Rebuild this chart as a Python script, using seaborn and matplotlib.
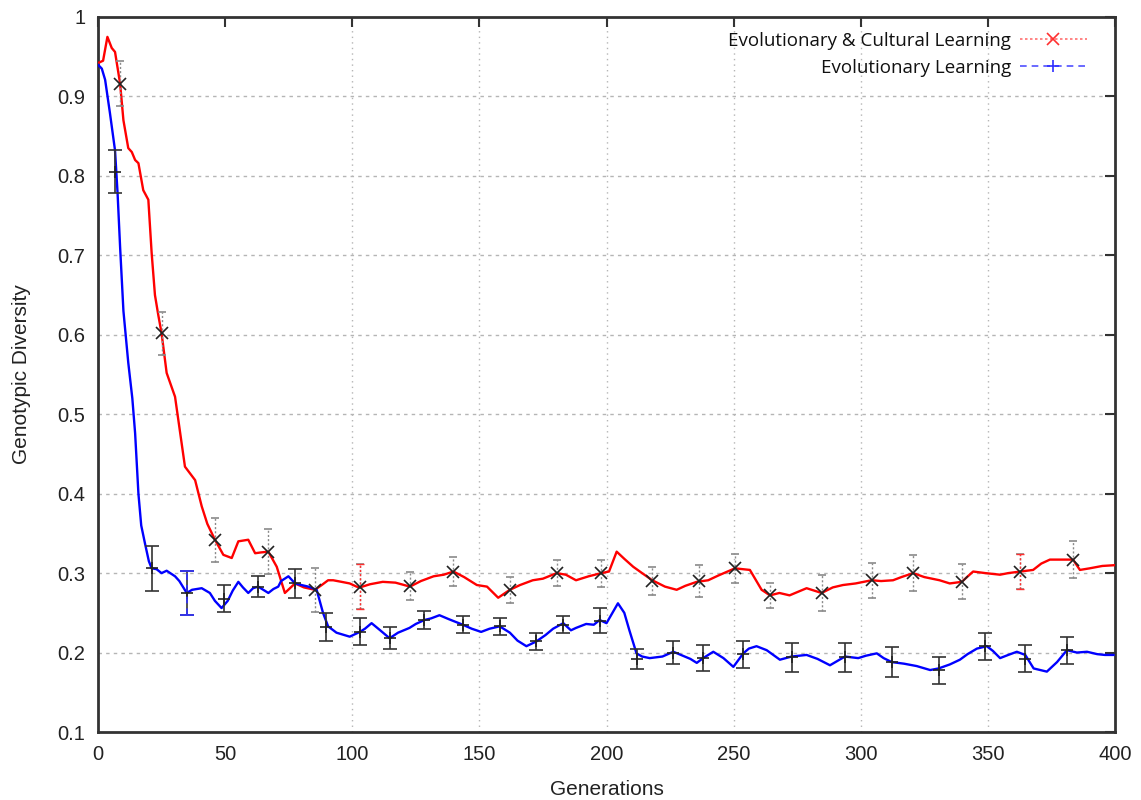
import numpy as np
import pandas as pd
import matplotlib
matplotlib.use("Agg")
import matplotlib.pyplot as plt
import seaborn as sns
from matplotlib.lines import Line2D

# ---------------- data ----------------
series_names = ["Evolutionary & Cultural Learning", "Evolutionary Learning"]

ec_gen = [0, 2, 3.7, 5.4, 6.7, 8.7, 10, 11.9, 13.3, 14.6, 15.9, 17.8, 19.8, 21.1, 22.4, 23.7,
          25, 27, 30.3, 34.2, 38.2, 40.8, 43, 46, 49.3, 52.6, 55.2, 59.1, 61.8, 64, 67, 70.3,
          73.5, 77.5, 81, 85.3, 88, 90.5, 92.5, 95.8, 99, 101.7, 103, 107, 112, 117, 122.7,
          127, 132, 136, 139.8, 144, 149, 153, 157.4, 162, 166, 171, 175, 180.4, 184, 188,
          193, 198, 201, 204, 207, 210.5, 214, 218, 223, 227.6, 231, 235.5, 240, 244, 250.5,
          256.4, 261, 264.3, 268, 272, 278.7, 284.6, 289, 293, 298, 304.3, 308, 312.7, 316,
          320.6, 325, 331, 335, 339.7, 344.2, 349, 354.8, 358, 362.8, 367.8, 371, 374.4, 379,
          383.5, 386.2, 390, 395, 400]
ec_val = [0.942, 0.945, 0.975, 0.961, 0.956, 0.916, 0.870, 0.835, 0.830, 0.820, 0.816, 0.782,
          0.770, 0.703, 0.650, 0.625, 0.602, 0.552, 0.522, 0.434, 0.417, 0.384, 0.362, 0.342,
          0.323, 0.319, 0.340, 0.342, 0.325, 0.326, 0.327, 0.308, 0.275, 0.287, 0.282, 0.279,
          0.285, 0.291, 0.291, 0.289, 0.287, 0.283, 0.282, 0.286, 0.289, 0.288, 0.283, 0.290,
          0.296, 0.298, 0.302, 0.295, 0.285, 0.283, 0.269, 0.279, 0.285, 0.291, 0.293, 0.300,
          0.298, 0.291, 0.296, 0.300, 0.302, 0.327, 0.318, 0.308, 0.300, 0.291, 0.283, 0.279,
          0.284, 0.289, 0.291, 0.297, 0.306, 0.304, 0.279, 0.272, 0.275, 0.272, 0.281, 0.275,
          0.282, 0.285, 0.287, 0.291, 0.290, 0.291, 0.295, 0.300, 0.295, 0.291, 0.287, 0.289,
          0.302, 0.300, 0.298, 0.300, 0.302, 0.304, 0.312, 0.317, 0.317, 0.317, 0.304, 0.306,
          0.309, 0.310]

ev_gen = [0, 1.5, 2.8, 4.7, 6.7, 7.3, 7.7, 8.7, 10, 11.9, 13.5, 14.6, 15.9, 17, 18.5, 20, 21.1,
          23, 25, 27, 30.3, 32, 34.9, 37, 40.8, 44, 46, 48.6, 51, 53, 55.2, 57, 59.1, 61, 63,
          65, 67, 69, 70.9, 72, 74.9, 77.5, 80, 82.7, 86, 88.5, 90.5, 93.8, 99, 103, 105,
          107.6, 111, 114.7, 118, 122.5, 125, 128.4, 131, 134.3, 138, 143.5, 147, 150.7, 154,
          158, 162, 165, 168.5, 172.4, 176, 179, 183, 186, 188, 192, 195, 197.3, 200, 202,
          204.5, 207, 209, 211.8, 214, 217, 222, 226.3, 230, 233, 235.5, 238, 242, 246, 249.9,
          253.8, 256, 259, 263, 268.2, 272.8, 278.7, 283, 287.9, 293.8, 299, 302, 306.3, 309,
          312.2, 317, 322, 327.3, 330.6, 335, 339, 342, 345.7, 349.6, 352, 354.8, 358, 361.4,
          364.7, 368, 373.2, 377.2, 381.1, 385, 389, 393, 396, 399.5]
ev_val = [0.940, 0.935, 0.921, 0.879, 0.832, 0.800, 0.778, 0.710, 0.630, 0.565, 0.520, 0.476,
          0.400, 0.360, 0.337, 0.315, 0.306, 0.305, 0.300, 0.303, 0.296, 0.290, 0.275, 0.279,
          0.281, 0.275, 0.265, 0.256, 0.265, 0.278, 0.289, 0.282, 0.275, 0.281, 0.283, 0.279,
          0.275, 0.280, 0.283, 0.290, 0.296, 0.287, 0.285, 0.283, 0.279, 0.250, 0.233, 0.225,
          0.220, 0.226, 0.230, 0.237, 0.228, 0.218, 0.225, 0.231, 0.236, 0.241, 0.243, 0.247,
          0.242, 0.235, 0.230, 0.226, 0.230, 0.233, 0.225, 0.215, 0.208, 0.214, 0.222, 0.230,
          0.237, 0.228, 0.231, 0.236, 0.235, 0.241, 0.237, 0.248, 0.262, 0.250, 0.228, 0.199,
          0.195, 0.193, 0.195, 0.201, 0.196, 0.192, 0.187, 0.193, 0.201, 0.193, 0.182, 0.199,
          0.205, 0.208, 0.203, 0.191, 0.195, 0.197, 0.192, 0.184, 0.195, 0.193, 0.196, 0.199,
          0.193, 0.188, 0.186, 0.183, 0.178, 0.180, 0.185, 0.191, 0.198, 0.205, 0.208, 0.202,
          0.193, 0.197, 0.201, 0.197, 0.180, 0.176, 0.188, 0.203, 0.200, 0.201, 0.198, 0.197,
          0.197]

# error-bar samples (generation, mean, half-width)
ec_err_gen = [8.7, 25, 46, 67, 85.3, 103, 122.7, 139.8, 162, 180.4, 198, 218, 236.5, 250.5,
              264.3, 284.6, 304.3, 320.6, 339.7, 362.8, 383.5]
ec_err_val = [0.916, 0.602, 0.342, 0.327, 0.279, 0.283, 0.284, 0.302, 0.279, 0.300, 0.300,
              0.290, 0.290, 0.306, 0.272, 0.275, 0.291, 0.300, 0.289, 0.302, 0.317]
ec_err = [0.028, 0.027, 0.028, 0.028, 0.028, 0.028, 0.018, 0.018, 0.016, 0.016, 0.017,
          0.018, 0.020, 0.018, 0.016, 0.023, 0.022, 0.023, 0.022, 0.022, 0.023]
ec_err_coloured = [103, 362.8]

ev_err_gen = [6.7, 21.1, 34.9, 49.5, 63, 77.5, 89.5, 103, 114.7, 128.4, 143.5, 158, 172.4,
              183, 197.3, 211.8, 226.3, 238, 253.8, 272.8, 293.8, 312.2, 330.6, 349, 364.7, 381.1]
ev_err_val = [0.805, 0.306, 0.275, 0.268, 0.283, 0.287, 0.232, 0.226, 0.218, 0.241, 0.235,
              0.233, 0.214, 0.235, 0.240, 0.192, 0.200, 0.193, 0.198, 0.194, 0.194, 0.188,
              0.178, 0.208, 0.192, 0.203]
ev_err = [0.027, 0.028, 0.028, 0.017, 0.013, 0.018, 0.018, 0.017, 0.014, 0.011, 0.011,
          0.011, 0.011, 0.011, 0.016, 0.013, 0.014, 0.016, 0.017, 0.018, 0.018, 0.019,
          0.017, 0.017, 0.017, 0.017]
ev_err_coloured = [34.9]

x_ticks = [0, 50, 100, 150, 200, 250, 300, 350, 400]
y_ticks = [0.1, 0.2, 0.3, 0.4, 0.5, 0.6, 0.7, 0.8, 0.9, 1.0]
y_tick_labels = ["0.1", "0.2", "0.3", "0.4", "0.5", "0.6", "0.7", "0.8", "0.9", "1"]
x_grid = [100, 150, 200, 250, 300, 350]

# ---------------- figure ----------------
sns.set_theme(style="white")
plt.rcParams['font.family'] = ['Liberation Sans', 'DejaVu Sans']

fig = plt.figure(figsize=(11.41, 8), dpi=100)
fig.patch.set_facecolor("white")
ax = fig.add_axes([98 / 1141, 68 / 800, (1115 - 98) / 1141, (732 - 17) / 800])

# grid
for yv in y_ticks[1:-1]:
    ax.axhline(yv, color="#b5b5b5", lw=1.0, ls=(0, (2.5, 3)), zorder=0)
for xv in x_grid:
    ax.axvline(xv, color="#b5b5b5", lw=1.0, ls=(0, (1, 3)), zorder=0)

df = pd.concat([
    pd.DataFrame({"gen": ec_gen, "val": ec_val, "series": series_names[0]}),
    pd.DataFrame({"gen": ev_gen, "val": ev_val, "series": series_names[1]}),
])
sns.lineplot(data=df, x="gen", y="val", hue="series",
             palette={series_names[0]: "#ff0000", series_names[1]: "#0000ff"},
             estimator=None, sort=False, linewidth=1.7, legend=False, ax=ax, zorder=3)

# error bars - E&C (dotted grey, x markers)
eb = ax.errorbar(ec_err_gen, ec_err_val, yerr=ec_err, fmt="x", color="#222222",
                 ecolor="#8a8a8a", elinewidth=1.0, capsize=3, capthick=1.0,
                 markersize=8, mew=1.2, zorder=4)
eb[2][0].set_linestyle((0, (1.5, 1.5)))
sel = [i for i, g in enumerate(ec_err_gen) if g in ec_err_coloured]
eb2 = ax.errorbar([ec_err_gen[i] for i in sel], [ec_err_val[i] for i in sel],
                  yerr=[ec_err[i] for i in sel], fmt="none", ecolor="#ff3030",
                  elinewidth=1.0, capsize=3, capthick=1.0, zorder=4)
eb2[2][0].set_linestyle((0, (1.5, 1.5)))

# error bars - E (solid dark, + markers)
ax.errorbar(ev_err_gen, ev_err_val, yerr=ev_err, fmt="+", color="#222222",
            ecolor="#333333", elinewidth=1.2, capsize=5, capthick=1.2,
            markersize=8, mew=1.2, zorder=4)
sel = [i for i, g in enumerate(ev_err_gen) if g in ev_err_coloured]
eb3 = ax.errorbar([ev_err_gen[i] for i in sel], [ev_err_val[i] for i in sel],
                  yerr=[ev_err[i] for i in sel], fmt="none", ecolor="#3030ff",
                  elinewidth=1.2, capsize=5, capthick=1.2, zorder=5)
eb3[2][0].set_linestyle((0, (4, 3)))

# axes styling
ax.set_xlim(0, 400)
ax.set_ylim(0.1, 1.0)
ax.set_xticks(x_ticks)
ax.set_yticks(y_ticks)
ax.set_yticklabels(y_tick_labels)
ax.tick_params(direction="in", length=7, width=1.5, top=True, right=True,
               labelsize=14.5, colors="#333333", pad=9, labelcolor="#222222")
for sp in ax.spines.values():
    sp.set_visible(True)
    sp.set_linewidth(2.0)
    sp.set_color("#333333")
ax.set_xlabel("Generations", fontsize=15, color="#222222", labelpad=12)
ax.set_ylabel("Genotypic Diversity", fontsize=15, color="#222222", labelpad=19)
ax.set_facecolor("white")

# legend (gnuplot-style: text right-aligned, sample on the right)
handles = [
    Line2D([], [], color="#ff7070", ls=(0, (1.5, 1.5)), lw=1.2, marker="x",
           markersize=8, mec="#ff3030", mew=1.2),
    Line2D([], [], color="#5050ff", ls=(0, (4, 3)), lw=1.2, marker="+",
           markersize=9, mec="#3030ff", mew=1.2),
]
leg = ax.legend(handles, series_names, loc="upper right",
                bbox_to_anchor=(1087 / 1141, 1 - 32 / 800),
                bbox_transform=fig.transFigure, frameon=False, markerfirst=False,
                handlelength=3.6, handletextpad=0.45, labelspacing=0.48, borderpad=0,
                borderaxespad=0, prop={"family": ["Open Sans", "DejaVu Sans"], "size": 13.5})
for t in leg.get_texts():
    t.set_color("#111111")

fig.savefig("out.png", dpi=100, facecolor="white")
